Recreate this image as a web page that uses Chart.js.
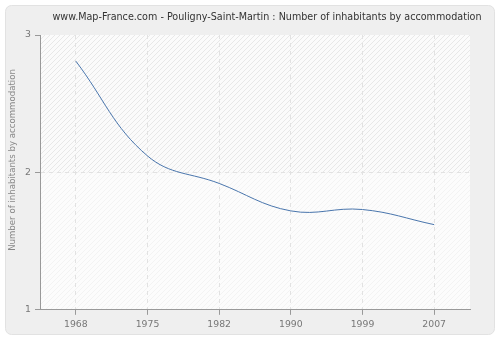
<!DOCTYPE html>
<html>
<head>
<meta charset="utf-8">
<script src="https://cdn.jsdelivr.net/npm/chart.js@4/dist/chart.umd.min.js"></script>
<style>
  html, body { margin: 0; padding: 0; background: #ffffff; }
</style>
</head>
<body>
<canvas id="myChart" width="500" height="340"></canvas>
<script>
// census years and inhabitants per accommodation
const years = ['1968', '1975', '1982', '1990', '1999', '2007'];
const inhabitants = [2.81, 2.12, 1.92, 1.72, 1.73, 1.62];
const yTicks = [1, 2, 3];

const FONT = 'Verdana, "DejaVu Sans", sans-serif';
const TITLE = 'www.Map-France.com - Pouligny-Saint-Martin : Number of inhabitants by accommodation';
const Y_TITLE = 'Number of inhabitants by accommodation';

// hatched fill for the plot area
function hatch(bg, line) {
  const n = 5;
  const c = document.createElement('canvas');
  c.width = n; c.height = n;
  const g = c.getContext('2d');
  g.fillStyle = bg;
  g.fillRect(0, 0, n, n);
  g.strokeStyle = line;
  g.lineWidth = 1;
  g.beginPath();
  for (let k = -n; k <= n; k += n) {
    g.moveTo(k, n); g.lineTo(k + n, 0);
  }
  g.stroke();
  return g.createPattern(c, 'repeat');
}

// grey panel, hatched plot area and the titles
const backdrop = {
  id: 'backdrop',
  beforeDraw(chart) {
    const ctx = chart.ctx;
    const { left, right, top, bottom } = chart.chartArea;
    ctx.save();
    ctx.fillStyle = '#ffffff';
    ctx.fillRect(0, 0, chart.width, chart.height);
    ctx.fillStyle = '#efefef';
    ctx.strokeStyle = '#e2e2e2';
    ctx.lineWidth = 1;
    ctx.beginPath();
    ctx.roundRect(5.5, 5.5, 489, 329, 6);
    ctx.fill();
    ctx.stroke();

    const y2 = chart.scales.y.getPixelForValue(2);
    ctx.fillStyle = hatch('#fcfcfc', '#f3f3f3');
    ctx.fillRect(left, y2, right - left, bottom - y2);
    ctx.fillStyle = hatch('#fbfbfb', '#e8e8e8');
    ctx.fillRect(left, top, right - left, y2 - top);

    ctx.fillStyle = '#333333';
    ctx.font = '9.6px ' + FONT;
    ctx.textAlign = 'center';
    ctx.textBaseline = 'middle';
    ctx.fillText(TITLE, 267, 17);

    ctx.fillStyle = '#888888';
    ctx.font = '8.6px ' + FONT;
    ctx.translate(13, 160);
    ctx.rotate(-Math.PI / 2);
    ctx.fillText(Y_TITLE, 0, 0);
    ctx.restore();
  }
};

const chartArea = document.getElementById('myChart').getContext('2d');

new Chart(chartArea, {
  type: 'line',
  data: {
    labels: years,
    datasets: [{
      data: inhabitants,
      borderColor: '#4a76ad',
      borderWidth: 1,
      pointRadius: 0,
      tension: 0.4,
      fill: false
    }]
  },
  plugins: [backdrop],
  options: {
    responsive: false,
    animation: false,
    layout: { padding: { top: 35, right: 30, bottom: 6, left: 20 } },
    plugins: {
      legend: { display: false },
      tooltip: { enabled: false },
      title: { display: false }
    },
    scales: {
      x: {
        offset: true,
        border: { color: '#999999', width: 1, dash: [4, 4] },
        grid: {
          offset: false,
          color: '#e2e2e2',
          tickColor: '#999999',
          tickLength: 5,
          tickBorderDash: []
        },
        ticks: { color: '#777777', font: { family: FONT, size: 9.3 }, padding: 4, maxRotation: 0 }
      },
      y: {
        min: 1,
        max: 3,
        afterBuildTicks(scale) { scale.ticks = yTicks.map(v => ({ value: v })); },
        afterFit(scale) { scale.width = 20; },
        border: { color: '#999999', width: 1, dash: [4, 4] },
        grid: {
          color: ctx => ctx.tick && ctx.tick.value === 2 ? '#e2e2e2' : 'rgba(0,0,0,0)',
          tickColor: '#999999',
          tickLength: 5,
          tickBorderDash: []
        },
        ticks: { color: '#777777', font: { family: FONT, size: 9.3 }, padding: 4 }
      }
    }
  }
});
</script>
</body>
</html>
